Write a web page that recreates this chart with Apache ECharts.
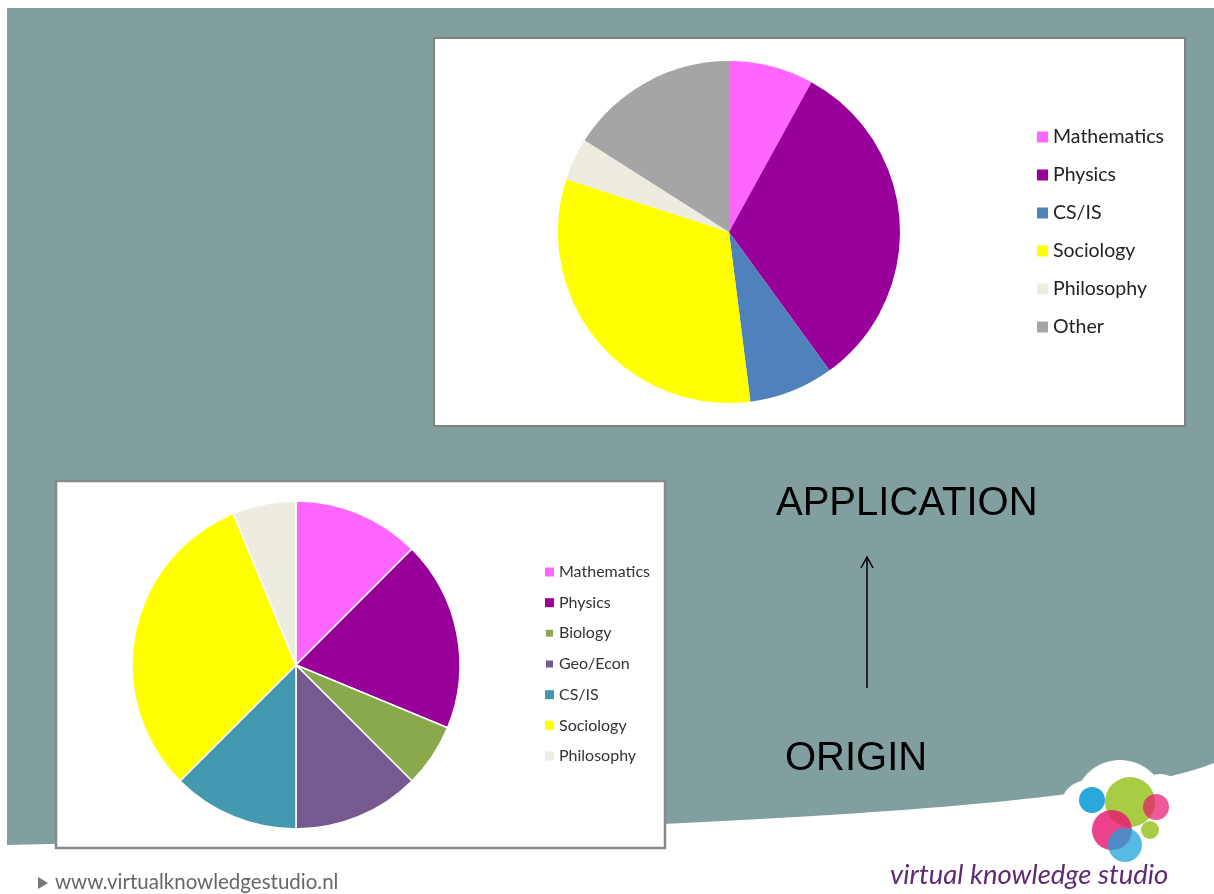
<!DOCTYPE html>
<html>
<head>
<meta charset="utf-8">
<script src="https://cdn.jsdelivr.net/npm/echarts@6/dist/echarts.min.js"></script>
<style>html,body{margin:0;padding:0;background:#fff}#c{width:1214px;height:894px}</style>
</head>
<body>
<div id="c"></div>
<script>
// Top chart (APPLICATION)
const appCategories = ['Mathematics', 'Physics', 'CS/IS', 'Sociology', 'Philosophy', 'Other'];
const appValues = [2, 8, 2, 8, 1, 4];
const appColors = ['#FF66FF', '#990099', '#4F81BD', '#FFFF00', '#EEECE1', '#A5A5A5'];
// Bottom chart (ORIGIN)
const originCategories = ['Mathematics', 'Physics', 'Biology', 'Geo/Econ', 'CS/IS', 'Sociology', 'Philosophy'];
const originValues = [2, 3, 1, 2, 2, 5, 1];
const originColors = ['#FF66FF', '#990099', '#8AA84C', '#76598F', '#4498B0', '#FFFF00', '#EEECE1'];

const chart = echarts.init(document.getElementById('c'), null, {renderer: 'canvas'});
const teal = '#819F9F';

// background shape with curved bottom edge
function bezierPts(p0, p1, p2, p3, n) {
  const pts = [];
  for (let i = 0; i <= n; i++) {
    const t = i / n, u = 1 - t;
    pts.push([
      u*u*u*p0[0] + 3*u*u*t*p1[0] + 3*u*t*t*p2[0] + t*t*t*p3[0],
      u*u*u*p0[1] + 3*u*u*t*p1[1] + 3*u*t*t*p2[1] + t*t*t*p3[1]
    ]);
  }
  return pts;
}
const bgPts = [[7, 8], [1214, 8]].concat(bezierPts([1214, 763], [1120, 800], [850, 826], [7, 845], 60));

const graphics = [
  {type: 'rect', z: -10, shape: {x: 0, y: 0, width: 1214, height: 894}, style: {fill: '#ffffff'}},
  {type: 'polygon', z: -9, shape: {points: bgPts}, style: {fill: teal}},
  // white cloud behind logo
  {type: 'circle', z: -8, shape: {cx: 1120, cy: 806, r: 46}, style: {fill: '#fff'}},
  {type: 'circle', z: -8, shape: {cx: 1088, cy: 808, r: 28}, style: {fill: '#fff'}},
  {type: 'circle', z: -8, shape: {cx: 1160, cy: 800, r: 26}, style: {fill: '#fff'}},
  // chart boxes
  {type: 'rect', z: -5, shape: {x: 434, y: 38, width: 751, height: 388}, style: {fill: '#fff', stroke: '#808080', lineWidth: 2}},
  {type: 'rect', z: -5, shape: {x: 56, y: 481, width: 609, height: 367}, style: {fill: '#fff', stroke: '#888888', lineWidth: 2.5}},
  // texts
  {type: 'text', z: 5, left: 776, top: 484, style: {text: 'APPLICATION', font: '40px "Liberation Sans", Arial, sans-serif', fill: '#000'}},
  {type: 'text', z: 5, left: 785, top: 739, style: {text: 'ORIGIN', font: '40px "Liberation Sans", Arial, sans-serif', fill: '#000'}},
  // arrow
  {type: 'line', z: 5, shape: {x1: 867, y1: 688, x2: 867, y2: 558}, style: {stroke: '#000', lineWidth: 1.5}},
  {type: 'polyline', z: 5, shape: {points: [[861, 568], [867, 557], [873, 568]]}, style: {stroke: '#000', lineWidth: 1.5, fill: null}},
  // footer
  {type: 'polygon', z: 5, shape: {points: [[38, 877], [48, 883], [38, 889]]}, style: {fill: '#777'}},
  {type: 'text', z: 5, left: 55, top: 872, style: {text: 'www.virtualknowledgestudio.nl', font: '20.5px Lato, "Open Sans", sans-serif', fill: '#666'}},
  {type: 'text', z: 5, left: 890, top: 862, style: {text: 'virtual knowledge studio', font: 'italic 27.5px Lato, "Open Sans", sans-serif', fill: '#5E2A72'}},
  // logo circles
  {type: 'circle', z: 6, shape: {cx: 1092, cy: 800, r: 13}, style: {fill: '#1EA3DA', opacity: 0.95}},
  {type: 'circle', z: 6, shape: {cx: 1130, cy: 802, r: 25}, style: {fill: '#A3C93A', opacity: 0.95}},
  {type: 'circle', z: 7, shape: {cx: 1156, cy: 807, r: 13}, style: {fill: '#E6136E', opacity: 0.7}},
  {type: 'circle', z: 7, shape: {cx: 1150, cy: 830, r: 9}, style: {fill: '#A3C93A', opacity: 0.95}},
  {type: 'circle', z: 7, shape: {cx: 1112, cy: 830, r: 20}, style: {fill: '#E6136E', opacity: 0.8}},
  {type: 'circle', z: 8, shape: {cx: 1125, cy: 845, r: 17}, style: {fill: '#1EA3DA', opacity: 0.75}}
];

chart.setOption({
  animation: false,
  graphic: graphics,
  legend: [
    {
      orient: 'vertical', left: 1037, top: 126, padding: 0,
      itemWidth: 11, itemHeight: 11, itemGap: 16, icon: 'rect',
      data: appCategories.map((n, i) => ({name: n, itemStyle: {color: appColors[i]}})),
      textStyle: {fontFamily: 'Lato, "Open Sans", sans-serif', fontSize: 19.5, lineHeight: 22, color: '#222'},
      selectedMode: false
    },
    {
      orient: 'vertical', left: 544, top: 563, padding: 0,
      itemWidth: 9, itemHeight: 9, itemGap: 12.67, icon: 'rect',
      data: originCategories.map((n, i) => ({name: n, itemStyle: {color: originColors[i]}})),
      textStyle: {fontFamily: 'Lato, "Open Sans", sans-serif', fontSize: 16, lineHeight: 18, color: '#333'},
      selectedMode: false
    }
  ],
  series: [
    {
      type: 'pie', center: [729, 232], radius: 171, startAngle: 90, clockwise: true,
      label: {show: false}, labelLine: {show: false}, emphasis: {disabled: true},
      itemStyle: {borderWidth: 0},
      data: appCategories.map((n, i) => ({name: n, value: appValues[i], itemStyle: {color: appColors[i]}}))
    },
    {
      type: 'pie', center: [296, 665], radius: 164, startAngle: 90, clockwise: true,
      label: {show: false}, labelLine: {show: false}, emphasis: {disabled: true},
      itemStyle: {borderWidth: 1.5, borderColor: '#fff'},
      data: originCategories.map((n, i) => ({name: n, value: originValues[i], itemStyle: {color: originColors[i]}}))
    }
  ]
});
</script>
</body>
</html>
